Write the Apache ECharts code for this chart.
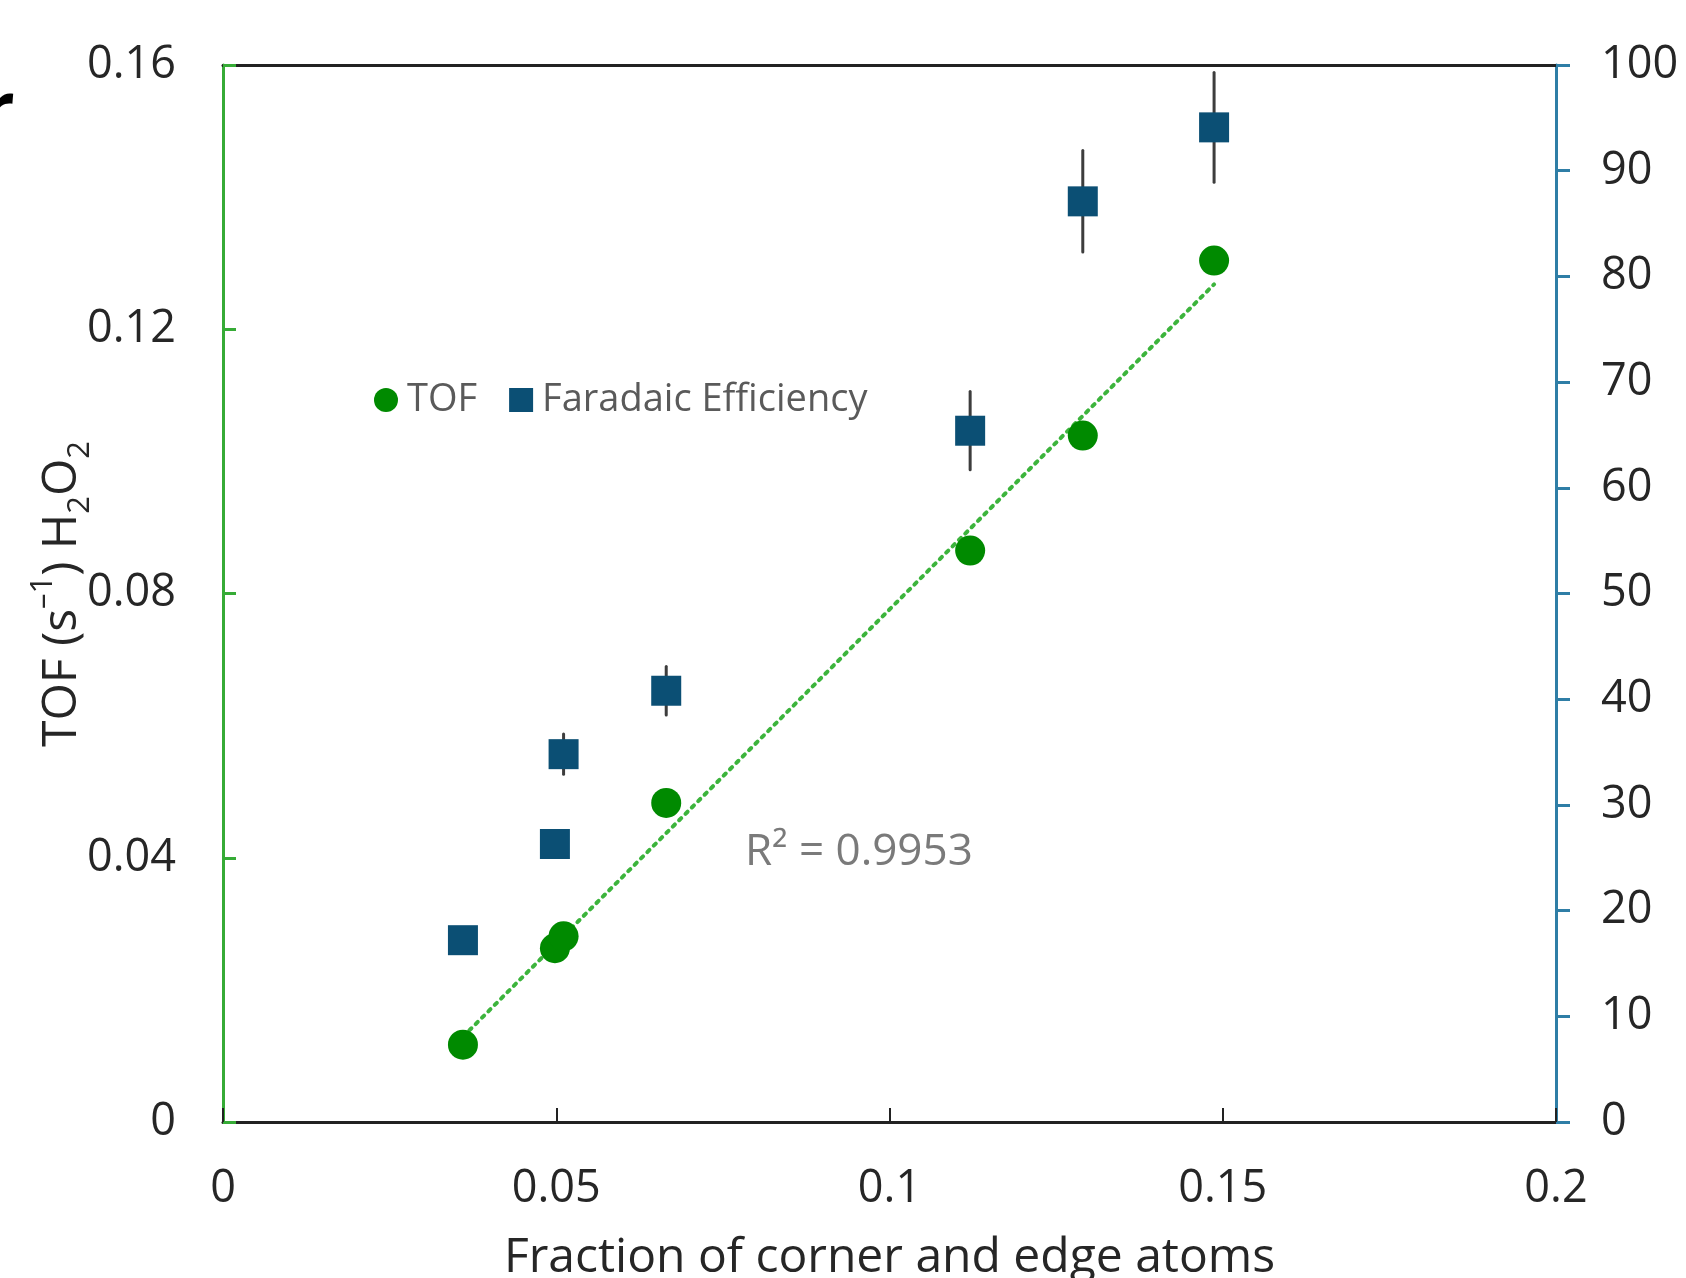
<!DOCTYPE html>
<html>
<head>
<meta charset="utf-8">
<script src="https://cdn.jsdelivr.net/npm/echarts@6/dist/echarts.min.js"></script>
<style>
  html, body { margin: 0; padding: 0; background: #fff; }
  #chart { width: 1686px; height: 1278px; }
</style>
</head>
<body>
<div id="chart"></div>
<script>
// 数据 (从图上读出来的)
var fraction = [0.036, 0.0498, 0.0511, 0.0665, 0.1121, 0.129, 0.1487];
var tofValues = [0.0117, 0.0263, 0.0281, 0.0483, 0.0865, 0.1039, 0.1304];
var feValues = [17.2, 26.3, 34.8, 40.8, 65.4, 87.1, 94.1];
var feError = [0.4, 0.6, 1.9, 2.3, 3.7, 4.8, 5.2];
// 趋势线两端
var trendX = [0.036, 0.1487];
var trendY = [0.0129, 0.1268];
var xTicks = [0, 0.05, 0.1, 0.15, 0.2];
var leftTicks = [0, 0.04, 0.08, 0.12, 0.16];
var rightTicks = [0, 10, 20, 30, 40, 50, 60, 70, 80, 90, 100];

var FONT = "'Open Sans', 'DejaVu Sans', sans-serif";
var green = '#008a00';
var navy = '#0b4f74';
var axisGreen = '#36ab36';
var axisBlue = '#2f7ea6';

var tofData = fraction.map(function (x, i) { return [x, tofValues[i]]; });
var feData = fraction.map(function (x, i) { return [x, feValues[i]]; });
var errData = fraction.map(function (x, i) { return [x, feValues[i] - feError[i], feValues[i] + feError[i]]; });
var trendData = trendX.map(function (x, i) { return [x, trendY[i]]; });

var myChart = echarts.init(document.getElementById('chart'));

var option = {
    backgroundColor: '#fff',
    animation: false,
    textStyle: { fontFamily: FONT },
    // 不让 v6 自动缩小绘图区
    grid: { left: 223, right: 130, top: 65, bottom: 156, containLabel: false, outerBoundsMode: 'none' },
    legend: {
        data: [
            { name: 'TOF', icon: 'circle' },
            { name: 'Faradaic Efficiency', icon: 'rect' }
        ],
        left: 369,
        top: 376,
        itemWidth: 24,
        itemHeight: 24,
        itemGap: 32,
        textStyle: { fontSize: 38, color: '#5a5a5a', fontFamily: FONT, padding: [0, 0, 0, 4] }
    },
    xAxis: [
        {
            type: 'value',
            min: 0, max: 0.2, interval: 0.05,
            axisLine: { onZero: false, lineStyle: { color: '#222', width: 3 } },
            axisTick: { inside: true, length: 14, lineStyle: { color: '#222', width: 2 } },
            axisLabel: {
                margin: 45, fontSize: 45, color: '#262626', fontFamily: FONT,
                formatter: function (v) { return xTicks.indexOf(+v.toFixed(2)) >= 0 ? String(+v.toFixed(2)) : ''; }
            },
            splitLine: { show: false },
            name: 'Fraction of corner and edge atoms',
            nameLocation: 'middle',
            nameGap: 112,
            nameTextStyle: { fontSize: 48, color: '#262626', fontFamily: FONT }
        },
        {
            // 顶部黑线
            type: 'value', position: 'top',
            min: 0, max: 0.2, interval: 0.05,
            axisLine: { onZero: false, lineStyle: { color: '#222', width: 3 } },
            axisTick: { show: false }, axisLabel: { show: false }, splitLine: { show: false }
        }
    ],
    yAxis: [
        {
            type: 'value', position: 'left',
            min: 0, max: 0.16, interval: 0.04,
            axisLine: { show: true, onZero: false, lineStyle: { color: axisGreen, width: 3 } },
            axisTick: { show: true, inside: true, length: 13, lineStyle: { color: axisGreen, width: 3 } },
            axisLabel: {
                margin: 47, fontSize: 45, color: '#262626', fontFamily: FONT,
                formatter: function (v) { return v === 0 ? '0' : v.toFixed(2); }
            },
            splitLine: { show: false }
        },
        {
            type: 'value', position: 'right',
            min: 0, max: 100, interval: 10,
            axisLine: { show: true, onZero: false, lineStyle: { color: axisBlue, width: 3 } },
            axisTick: { show: true, inside: false, length: 14, lineStyle: { color: axisBlue, width: 3 } },
            axisLabel: { margin: 45, fontSize: 45, color: '#262626', fontFamily: FONT },
            splitLine: { show: false }
        }
    ],
    graphic: [
        {
            type: 'text',
            x: 62, y: 594,
            rotation: Math.PI / 2,
            style: {
                text: '{n|TOF (s}{sup|–1}{n|) H}{sub|2}{n|O}{sub|2}',
                align: 'center', verticalAlign: 'middle',
                fill: '#262626',
                rich: {
                    n: { fontSize: 48, fontFamily: FONT, lineHeight: 68, verticalAlign: 'middle', fill: '#262626' },
                    sup: { fontSize: 31, fontFamily: FONT, lineHeight: 68, verticalAlign: 'top', fill: '#262626' },
                    sub: { fontSize: 31, fontFamily: FONT, lineHeight: 68, verticalAlign: 'bottom', fill: '#262626' }
                }
            }
        },
        {
            type: 'text',
            x: 745, y: 852,
            style: {
                text: 'R² = 0.9953',
                fontSize: 44, fontFamily: FONT, fill: '#7a7a7a',
                align: 'left', verticalAlign: 'middle'
            }
        },
        {
            // 左上角残留的字母
            type: 'text',
            x: -18, y: 76,
            style: { text: 'r', fontSize: 72, fontFamily: FONT, fill: '#000', fontWeight: 'bold' }
        }
    ],
    series: [
        {
            name: 'trend',
            type: 'line',
            xAxisIndex: 0, yAxisIndex: 0,
            data: trendData,
            symbol: 'none',
            lineStyle: { color: '#3cb43c', width: 4, type: [3, 6], cap: 'round' },
            z: 2,
            silent: true
        },
        {
            name: 'errorbar',
            type: 'custom',
            xAxisIndex: 0, yAxisIndex: 1,
            data: errData,
            encode: { x: 0, y: [1, 2] },
            renderItem: function (params, api) {
                var lo = api.coord([api.value(0), api.value(1)]);
                var hi = api.coord([api.value(0), api.value(2)]);
                return {
                    type: 'line',
                    shape: { x1: lo[0], y1: lo[1], x2: hi[0], y2: hi[1] },
                    style: { stroke: '#3d3d3d', lineWidth: 3, lineCap: 'round' }
                };
            },
            z: 3,
            silent: true
        },
        {
            name: 'Faradaic Efficiency',
            type: 'scatter',
            xAxisIndex: 0, yAxisIndex: 1,
            data: feData,
            symbol: 'rect',
            symbolSize: 30,
            itemStyle: { color: navy, opacity: 1 },
            z: 4
        },
        {
            name: 'TOF',
            type: 'scatter',
            xAxisIndex: 0, yAxisIndex: 0,
            data: tofData,
            symbol: 'circle',
            symbolSize: 30,
            itemStyle: { color: green, opacity: 1 },
            z: 5
        }
    ]
};

myChart.setOption(option);
</script>
</body>
</html>
